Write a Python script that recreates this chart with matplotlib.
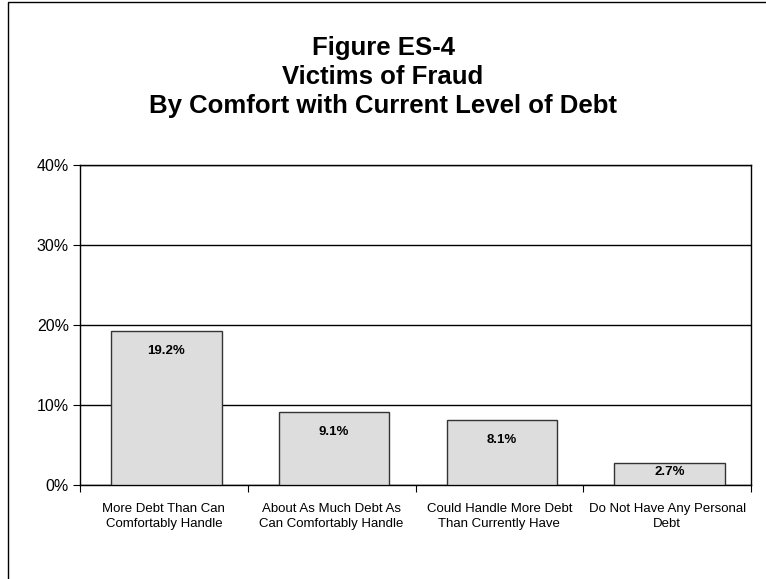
import matplotlib

matplotlib.use("Agg")
import matplotlib.pyplot as plt
import numpy as np
from matplotlib.patches import Rectangle

plt.rcParams["font.family"] = ["Liberation Sans", "DejaVu Sans"]

categories = [
    "More Debt Than Can\nComfortably Handle",
    "About As Much Debt As\nCan Comfortably Handle",
    "Could Handle More Debt\nThan Currently Have",
    "Do Not Have Any Personal\nDebt",
]
fraud_rate = [19.2, 9.1, 8.1, 2.7]
y_ticks = [0, 10, 20, 30, 40]

fig = plt.figure(figsize=(7.66, 5.79), dpi=100)
ax = fig.add_axes([80 / 766, 1 - 485 / 579, 671 / 766, 320 / 579])

# cadre autour de la figure
fig.patches.append(Rectangle((8 / 766, -0.1), 1.2, 1.1 - 2 / 579,
                             transform=fig.transFigure, fill=False,
                             edgecolor="black", linewidth=1.0))

x = np.arange(len(categories))
bars = ax.bar(x + 0.015, fraud_rate, width=0.66, color="#dddddd",
              edgecolor="#333333", linewidth=1.0, zorder=3)
for b, v in zip(bars, fraud_rate):
    # étiquette sous le haut de la barre, recentrée si la barre est trop basse
    y_lab = v - 2.5 if v > 5 else v * 0.6
    ax.text(b.get_x() + b.get_width() / 2, y_lab, f"{v:.1f}%",
            ha="center", va="center", fontsize=9.5, fontweight="bold",
            zorder=4)

ax.set_xlim(-0.5, len(categories) - 0.5)
ax.set_ylim(0, 40)
ax.set_yticks(y_ticks, [f"{t}%" for t in y_ticks], fontsize=11.5)
ax.set_xticks(np.arange(len(categories) + 1) - 0.5, minor=False)
ax.set_xticklabels([])
ax.set_xticks(x, categories, minor=True, fontsize=9.5, linespacing=1.3)
ax.tick_params(axis="x", which="minor", length=0, pad=13)
ax.tick_params(axis="x", which="major", length=5, direction="out")
ax.tick_params(axis="y", length=5, direction="out", pad=3)
ax.grid(axis="y", color="black", linewidth=1.0, zorder=0)
for s in ax.spines.values():
    s.set_linewidth(1.0)

for y, line in [(48, "Figure ES-4"), (77, "Victims of Fraud"),
                (106, "By Comfort with Current Level of Debt")]:
    fig.text(0.5, 1 - y / 579, line, ha="center", va="center",
             fontsize=18.5, fontweight="bold")

fig.savefig("out.png", dpi=100)
